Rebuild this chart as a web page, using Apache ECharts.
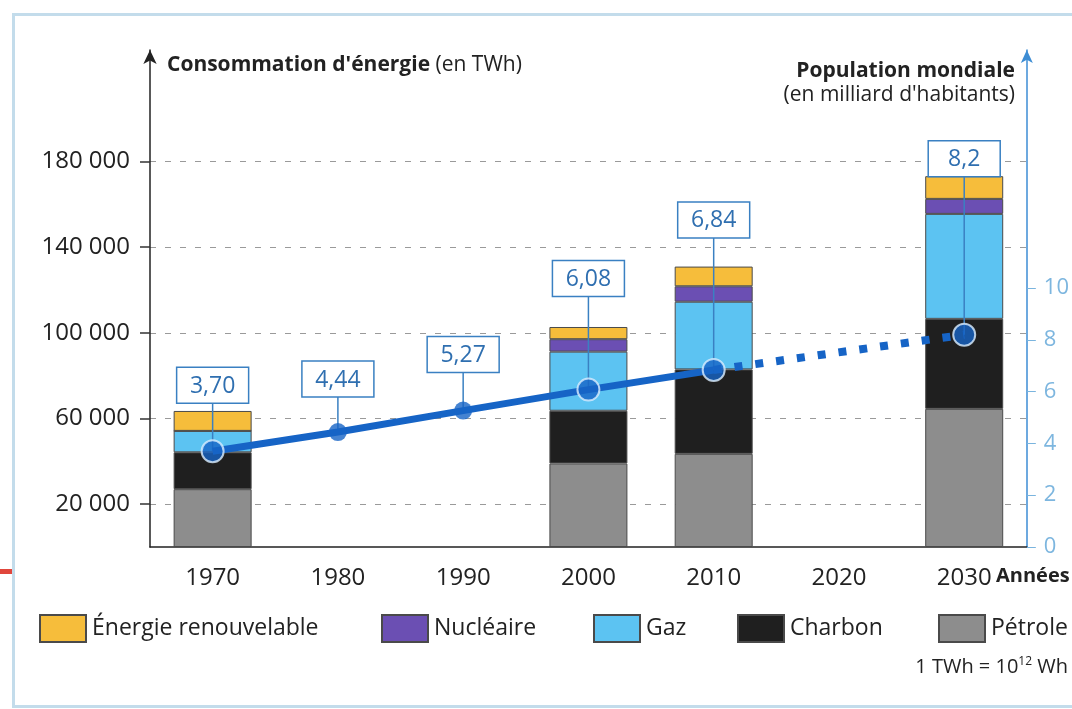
<!DOCTYPE html>
<html>
<head>
<meta charset="utf-8">
<script src="https://cdn.jsdelivr.net/npm/echarts@6/dist/echarts.min.js"></script>
<style>
  html, body { margin: 0; padding: 0; background: #fff; }
  #main { width: 1072px; height: 709px; }
</style>
</head>
<body>
<div id="main"></div>
<script>
// data
var years = ['1970', '1980', '1990', '2000', '2010', '2020', '2030'];
var petrole = [27000, null, null, 39000, 43500, null, 64500];
var charbon = [17200, null, null, 24600, 39400, null, 42000];
var gaz = [10000, null, null, 27600, 31600, null, 49000];
var nucleaire = [0, null, null, 5800, 7200, null, 7000];
var renouvelable = [9300, null, null, 5700, 9200, null, 10600];
var population = [3.70, 4.44, 5.27, 6.08, 6.84, null, 8.2];
var popLabels = ['3,70', '4,44', '5,27', '6,08', '6,84', null, '8,2'];
var energyTicks = [20000, 60000, 100000, 140000, 180000];
var popTicks = [0, 2, 4, 6, 8, 10];

// how far (px) each value box sits above its point
var labelLift = [66, 53, 56, 111, 150, 0, 176];

var FONT = '"Open Sans", "Noto Sans", sans-serif';
var lineBlue = '#1664c6';
var boxBlue = '#3a80c2';

var chart = echarts.init(document.getElementById('main'));

function spaced(v) {
  return String(v).replace(/\B(?=(\d{3})+(?!\d))/g, ' ');
}

var barStyle = function (color) {
  return { color: color, borderColor: '#4a4a4a', borderWidth: 1 };
};

var popPoints = [];
population.forEach(function (v, i) {
  if (v == null) return;
  var onBar = petrole[i] != null;
  popPoints.push({
    value: [i, v],
    symbolSize: onBar ? 22 : 18,
    itemStyle: onBar ? { color: lineBlue, borderColor: '#dcefff', borderWidth: 2 } : { color: lineBlue }
  });
});

var option = {
  backgroundColor: '#fff',
  animation: false,
  textStyle: { fontFamily: FONT },
  grid: { left: 150, right: 45, top: 50, bottom: 162 },
  legend: [
    { data: ['Énergie renouvelable'], left: 34, top: 609 },
    { data: ['Nucléaire'], left: 376, top: 609 },
    { data: ['Gaz'], left: 588, top: 609 },
    { data: ['Charbon'], left: 732, top: 609 },
    { data: ['Pétrole'], left: 933, top: 609 }
  ].map(function (l) {
    l.icon = 'rect';
    l.itemWidth = 46;
    l.itemHeight = 27;
    l.itemGap = 0;
    l.textStyle = { fontSize: 23, color: '#222', fontFamily: FONT, padding: [0, 0, 0, 1] };
    return l;
  }),
  xAxis: {
    type: 'category',
    data: years,
    axisLine: { lineStyle: { color: '#222', width: 1.5 } },
    axisTick: { alignWithLabel: true, length: 9, lineStyle: { color: '#222' } },
    axisLabel: { fontSize: 24, color: '#222', margin: 19, fontFamily: FONT }
  },
  yAxis: [{
    type: 'value',
    min: 0,
    max: 232000,
    axisLine: { show: true, symbol: ['none', 'arrow'], symbolSize: [10, 14], lineStyle: { color: '#222', width: 1.5 } },
    axisTick: { show: true, length: 10, customValues: energyTicks, lineStyle: { color: '#333', width: 1.5 } },
    axisLabel: { customValues: energyTicks, fontSize: 24, color: '#222', margin: 20, fontFamily: FONT, formatter: spaced },
    splitLine: { show: true, lineStyle: { color: '#9a9a9a', type: [6, 9], width: 1.2 } }
  }, {
    type: 'value',
    min: 0,
    max: 19.2,
    position: 'right',
    axisLine: { show: true, symbol: ['none', 'arrow'], symbolSize: [9, 13], lineStyle: { color: '#3d8dd4', width: 1.5 } },
    axisTick: { show: true, length: 9, customValues: popTicks, lineStyle: { color: '#7ab4de' } },
    axisLabel: { customValues: popTicks, fontSize: 22, color: '#7db6df', margin: 17, fontFamily: FONT },
    splitLine: { show: false }
  }],
  series: [
    { name: 'Pétrole', type: 'bar', stack: 'e', barWidth: 78, data: petrole, itemStyle: barStyle('#8d8d8d'), z: 2 },
    { name: 'Charbon', type: 'bar', stack: 'e', data: charbon, itemStyle: barStyle('#1f1f1f'), z: 2 },
    { name: 'Gaz', type: 'bar', stack: 'e', data: gaz, itemStyle: barStyle('#5cc3f2'), z: 2 },
    { name: 'Nucléaire', type: 'bar', stack: 'e', data: nucleaire, itemStyle: barStyle('#6b4fb3'), z: 2 },
    { name: 'Énergie renouvelable', type: 'bar', stack: 'e', data: renouvelable, itemStyle: barStyle('#f6bd3b'), z: 2 },
    {
      name: 'boxes',
      type: 'custom',
      yAxisIndex: 1,
      z: 3,
      silent: true,
      data: popPoints.map(function (p) { return p.value; }),
      renderItem: function (params, api) {
        var idx = api.value(0);
        var pt = api.coord([idx, api.value(1)]);
        var cy = pt[1] - labelLift[idx];
        return {
          type: 'group',
          children: [
            { type: 'line', shape: { x1: pt[0], y1: cy + 18, x2: pt[0], y2: pt[1] }, style: { stroke: boxBlue, lineWidth: 1.5 } },
            { type: 'rect', shape: { x: pt[0] - 36, y: cy - 18, width: 72, height: 36 }, style: { fill: '#fff', stroke: boxBlue, lineWidth: 1.5 } },
            { type: 'text', style: { x: pt[0], y: cy + 1, text: popLabels[idx], fill: '#2f6fb0', font: '23px ' + FONT, align: 'center', verticalAlign: 'middle' } }
          ]
        };
      }
    },
    {
      name: 'pop',
      type: 'line',
      yAxisIndex: 1,
      z: 4,
      symbol: 'none',
      data: population.map(function (v, i) { return i <= 4 ? v : null; }),
      lineStyle: { color: lineBlue, width: 7 }
    },
    {
      name: 'pop projection',
      type: 'line',
      yAxisIndex: 1,
      z: 4,
      symbol: 'none',
      connectNulls: true,
      data: population.map(function (v, i) { return i >= 4 ? v : null; }),
      lineStyle: { color: lineBlue, width: 8, type: [8, 13], cap: 'butt' }
    },
    {
      name: 'pop points',
      type: 'scatter',
      yAxisIndex: 1,
      z: 5,
      symbol: 'circle',
      data: popPoints
    }
  ],
  graphic: [
    { type: 'rect', left: 11, top: 12, shape: { width: 1090, height: 692 }, style: { fill: 'none', stroke: '#c3dceb', lineWidth: 3 }, z: -1 },
    { type: 'rect', left: 0, top: 569, shape: { width: 12, height: 5 }, style: { fill: '#e0463c' } },
    {
      type: 'text', left: 167, top: 55,
      style: {
        text: '{b|Consommation d\'énergie} (en TWh)',
        font: '21px ' + FONT, fill: '#222',
        rich: { b: { fontWeight: 'bold', fontSize: 21, fontFamily: FONT, fill: '#222' } }
      }
    },
    {
      type: 'text', right: 57, top: 61,
      style: { text: 'Population mondiale', font: 'bold 21px ' + FONT, fill: '#222', align: 'right' }
    },
    {
      type: 'text', right: 57, top: 85,
      style: { text: '(en milliard d\'habitants)', font: '21px ' + FONT, fill: '#222', align: 'right' }
    },
    {
      type: 'text', left: 996, top: 566,
      style: { text: 'Années', font: 'bold 20px ' + FONT, fill: '#222' }
    },
    {
      type: 'text', right: 4, top: 656,
      style: {
        text: '1 TWh = 10{s|12} Wh',
        font: '20px ' + FONT, fill: '#222',
        rich: { s: { fontSize: 12, fontFamily: FONT, verticalAlign: 'top', padding: [0, 0, 10, 0] } }
      }
    }
  ]
};

chart.setOption(option);
window.onresize = function () {
  chart.resize();
};
</script>
</body>
</html>
